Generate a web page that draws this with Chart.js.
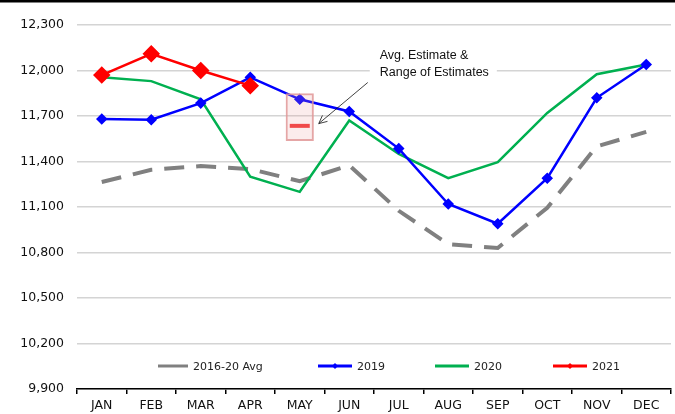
<!DOCTYPE html>
<html>
<head>
<meta charset="utf-8">
<script src="https://cdn.jsdelivr.net/npm/chart.js@4.4.1/dist/chart.umd.min.js"></script>
<style>
  html, body { margin: 0; padding: 0; background: #fff; overflow: hidden; }
  #wrap { width: 685px; height: 414px; position: relative; }
  canvas { display: block; }
</style>
</head>
<body>
<div id="wrap"><canvas id="grafico"></canvas></div>
<script>
// ---------------- DATOS ----------------
const meses = ["JAN", "FEB", "MAR", "APR", "MAY", "JUN", "JUL", "AUG", "SEP", "OCT", "NOV", "DEC"];
const prom1620 = [11265, 11345, 11370, 11350, 11270, 11375, 11075, 10855, 10830, 11095, 11500, 11595];
const serie2019 = [11680, 11675, 11785, 11955, 11810, 11730, 11485, 11120, 10990, 11290, 11820, 12040];
const serie2020 = [11955, 11930, 11810, 11300, 11200, 11670, 11450, 11290, 11395, 11720, 11975, 12040];
const serie2021 = [11970, 12110, 12000, 11900, null, null, null, null, null, null, null, null];
const rangoEstimado = [null, null, null, null, [11535, 11850], null, null, null, null, null, null, null];
const promEstimado = [null, null, null, null, 11635, null, null, null, null, null, null, null];
const ticksY = [9900, 10200, 10500, 10800, 11100, 11400, 11700, 12000, 12300];

const fuente = "'DejaVu Sans', sans-serif";

// leyenda dibujada dentro del area del grafico
const leyendaPlugin = {
    id: "leyendaInterna",
    afterDatasetsDraw(chart, args, opts) {
        const { ctx, chartArea } = chart;
        const y = chartArea.bottom - 23;
        ctx.save();
        ctx.font = "11px " + fuente;
        ctx.textBaseline = "middle";
        opts.items.forEach((it) => {
            const ds = chart.data.datasets[it.ds];
            ctx.strokeStyle = ds.borderColor;
            ctx.lineWidth = 3;
            ctx.setLineDash([]);
            ctx.beginPath();
            ctx.moveTo(it.x, y);
            ctx.lineTo(it.x + it.w, y);
            ctx.stroke();
            if (ds.pointRadius) {
                ctx.fillStyle = ds.borderColor;
                const cx = it.x + it.w / 2;
                ctx.beginPath();
                ctx.moveTo(cx, y - 3);
                ctx.lineTo(cx + 3, y);
                ctx.lineTo(cx, y + 3);
                ctx.lineTo(cx - 3, y);
                ctx.closePath();
                ctx.fill();
            }
            ctx.fillStyle = "#222";
            ctx.fillText(ds.label, it.x + it.w + 5, y + 1);
        });
        ctx.restore();
    },
};

// nota "Avg. Estimate & Range of Estimates" con flecha
const notaPlugin = {
    id: "notaEstimado",
    afterDatasetsDraw(chart) {
        const { ctx, scales } = chart;
        const xMay = scales.x.getPixelForValue(4);
        const tx = xMay + 80;
        const ty = scales.y.getPixelForValue(12000);
        ctx.save();
        ctx.font = "12.5px 'Liberation Sans', sans-serif";
        const w = ctx.measureText("Range of Estimates").width;
        ctx.fillStyle = "#fff";
        ctx.fillRect(tx - 10, ty - 26, w + 18, 36);
        ctx.fillStyle = "#111";
        ctx.textBaseline = "middle";
        ctx.fillText("Avg. Estimate &", tx, ty - 15);
        ctx.fillText("Range of Estimates", tx, ty + 2);

        // flecha
        const x0 = tx - 12, y0 = ty + 12;
        const x1 = xMay + 19, y1 = scales.y.getPixelForValue(11650);
        ctx.strokeStyle = "#111";
        ctx.lineWidth = 0.8;
        ctx.beginPath();
        ctx.moveTo(x0, y0);
        ctx.lineTo(x1, y1);
        ctx.stroke();
        const ang = Math.atan2(y1 - y0, x1 - x0);
        ctx.beginPath();
        ctx.moveTo(x1 - 9 * Math.cos(ang - 0.45), y1 - 9 * Math.sin(ang - 0.45));
        ctx.lineTo(x1, y1);
        ctx.lineTo(x1 - 9 * Math.cos(ang + 0.45), y1 - 9 * Math.sin(ang + 0.45));
        ctx.stroke();

        // linea negra superior
        ctx.fillStyle = "#000";
        ctx.fillRect(0, 0, chart.width, 2.5);
        ctx.restore();
    },
};

function initGrafico() {
    const ctx = document.getElementById("grafico");

    new Chart(ctx, {
        data: {
            labels: meses,
            datasets: [
                {
                    type: "line",
                    label: "2016-20 Avg",
                    data: prom1620,
                    borderColor: "#808080",
                    borderWidth: 4,
                    borderDash: [20, 12],
                    pointRadius: 0,
                    tension: 0,
                    order: 5,
                },
                {
                    type: "line",
                    label: "2019",
                    data: serie2019,
                    borderColor: "#0000ff",
                    backgroundColor: "#0000ff",
                    borderWidth: 2.5,
                    pointStyle: "rectRot",
                    pointRadius: 4,
                    tension: 0,
                    order: 3,
                },
                {
                    type: "line",
                    label: "2020",
                    data: serie2020,
                    borderColor: "#00b050",
                    borderWidth: 2.5,
                    pointRadius: 0,
                    tension: 0,
                    order: 4,
                },
                {
                    type: "line",
                    label: "2021",
                    data: serie2021,
                    borderColor: "#ff0000",
                    backgroundColor: "#ff0000",
                    borderWidth: 2.5,
                    pointStyle: "rectRot",
                    pointRadius: 7,
                    tension: 0,
                    order: 2,
                },
                {
                    type: "bar",
                    label: "Range",
                    data: rangoEstimado,
                    backgroundColor: "rgba(235, 150, 150, 0.18)",
                    borderColor: "rgba(225, 150, 150, 0.85)",
                    borderWidth: 2,
                    borderSkipped: false,
                    barPercentage: 0.57,
                    categoryPercentage: 1,
                    order: 1,
                },
                {
                    type: "line",
                    label: "Avg. Estimate",
                    data: promEstimado,
                    showLine: false,
                    pointStyle: "line",
                    pointRadius: 10,
                    borderColor: "#f04a4a",
                    pointBorderWidth: 4,
                    order: 0,
                },
            ],
        },
        options: {
            responsive: true,
            maintainAspectRatio: false,
            animation: false,
            layout: { padding: { top: 25, right: 5, left: 0, bottom: 0 } },
            plugins: {
                legend: { display: false },
                tooltip: { enabled: false },
                leyendaInterna: {
                    items: [
                        { ds: 0, x: 158, w: 30 },
                        { ds: 1, x: 318, w: 34 },
                        { ds: 2, x: 435, w: 34 },
                        { ds: 3, x: 553, w: 34 },
                    ],
                },
            },
            scales: {
                x: {
                    offset: true,
                    grid: {
                        offset: true,
                        drawOnChartArea: false,
                        drawTicks: true,
                        tickLength: 5,
                        color: "#000",
                        lineWidth: 1.5,
                    },
                    border: { display: true, color: "#000", width: 1.5 },
                    ticks: {
                        color: "#111",
                        font: { family: fuente, size: 12.5 },
                        padding: 4,
                        maxRotation: 0,
                    },
                    afterFit: (s) => {
                        s.height = 25;
                        s.paddingLeft = 0;
                        s.paddingRight = 0;
                    },
                },
                y: {
                    min: 9900,
                    max: 12300,
                    afterBuildTicks: (s) => { s.ticks = ticksY.map((v) => ({ value: v })); },
                    grid: {
                        color: "#d4d4d4",
                        lineWidth: 1.5,
                        drawTicks: false,
                    },
                    border: { display: false },
                    ticks: {
                        color: "#111",
                        font: { family: fuente, size: 12.5 },
                        padding: 13,
                        callback: (v) => v.toLocaleString("en-US"),
                    },
                    afterFit: (s) => { s.width = 77; },
                },
            },
        },
        plugins: [leyendaPlugin, notaPlugin],
    });
}

initGrafico();
</script>
</body>
</html>
